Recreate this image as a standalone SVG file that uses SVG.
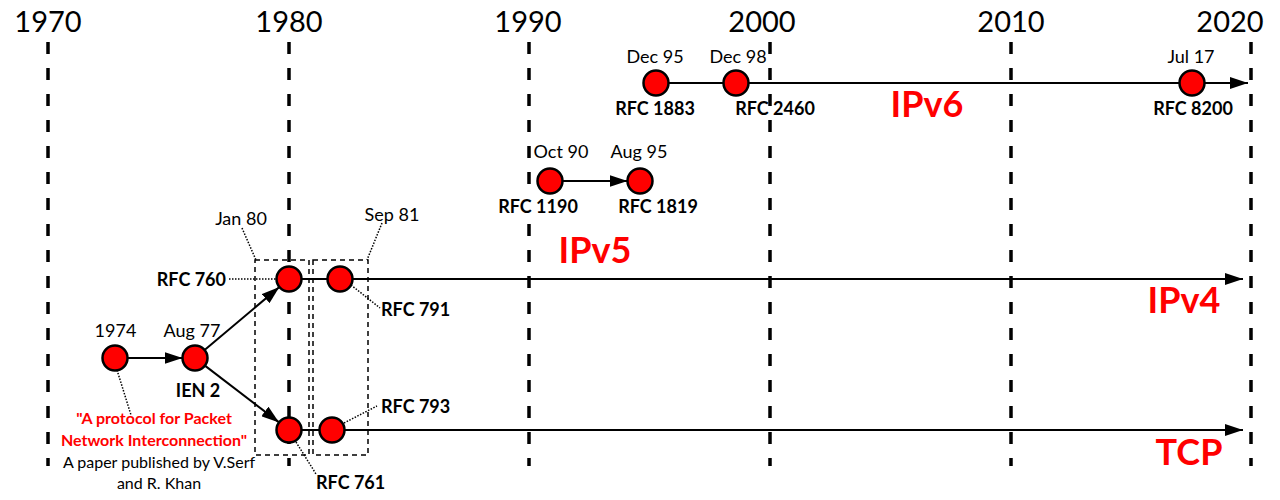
<svg xmlns="http://www.w3.org/2000/svg" width="1280" height="500" viewBox="0 0 1280 500">
<style>
  text { font-family: Lato, "Noto Sans", "DejaVu Sans", sans-serif; fill: #000; }
  .year { font-size: 29px; text-anchor: middle; }
  .date { font-size: 18px; text-anchor: middle; }
  .rfc { font-size: 18px; font-weight: bold; }
  .mid { text-anchor: middle; }
  .big { font-size: 36px; font-weight: bold; fill: #ff0000; text-anchor: middle; }
  .note { font-size: 16px; text-anchor: middle; }
  .red { fill: #ff0000; font-weight: bold; }
  .grid { stroke: #000; stroke-width: 3.5; stroke-dasharray: 12 14; fill: none; }
  .box { stroke: #000; stroke-width: 1.5; stroke-dasharray: 5 4; fill: none; }
  .lead { stroke: #000; stroke-width: 1.5; stroke-dasharray: 1.5 1.5; fill: none; }
  .conn { stroke: #000; stroke-width: 2; fill: none; }
  .node { fill: #ff0000; stroke: #000; stroke-width: 2.5; }
</style>
<defs>
  <marker id="arr" markerUnits="userSpaceOnUse" markerWidth="18" markerHeight="12" refX="18" refY="6" orient="auto">
    <path d="M0,0 L18,6 L0,12 z" fill="#000"/>
  </marker>
</defs>
<rect width="1280" height="500" fill="#fff"/>

<g id="timeline-grid">
  <line class="grid" x1="48" y1="42" x2="48" y2="466"/>
  <line class="grid" x1="289" y1="42" x2="289" y2="466"/>
  <line class="grid" x1="529" y1="42" x2="529" y2="466"/>
  <line class="grid" x1="770" y1="42" x2="770" y2="466"/>
  <line class="grid" x1="1011" y1="42" x2="1011" y2="466"/>
  <line class="grid" x1="1251" y1="42" x2="1251" y2="466"/>
  <text class="year" x="48" y="32">1970</text>
  <text class="year" x="289" y="32">1980</text>
  <text class="year" x="528" y="32">1990</text>
  <text class="year" x="762" y="32">2000</text>
  <text class="year" x="1011" y="32">2010</text>
  <text class="year" x="1230" y="32">2020</text>
</g>

<g id="groups">
  <rect class="box" x="255" y="260" width="54" height="195"/>
  <rect class="box" x="313" y="260" width="55" height="195"/>
</g>

<g id="leaders">
  <line class="lead" x1="242" y1="228" x2="256" y2="260"/>
  <line class="lead" x1="382" y1="223" x2="367" y2="260"/>
  <line class="lead" x1="229" y1="279" x2="276" y2="279"/>
  <line class="lead" x1="351" y1="285" x2="380" y2="308"/>
  <line class="lead" x1="344" y1="423" x2="377" y2="406"/>
  <line class="lead" x1="296" y1="442" x2="316" y2="474"/>
  <line class="lead" x1="117" y1="370" x2="131" y2="415"/>
</g>

<g id="connectors">
  <line class="conn" x1="656" y1="83" x2="1248" y2="83" marker-end="url(#arr)"/>
  <line class="conn" x1="562.5" y1="181" x2="627.5" y2="181" marker-end="url(#arr)"/>
  <line class="conn" x1="289" y1="279" x2="1243" y2="279" marker-end="url(#arr)"/>
  <line class="conn" x1="289" y1="430" x2="1243" y2="430" marker-end="url(#arr)"/>
  <line class="conn" x1="127.5" y1="358" x2="182.5" y2="358" marker-end="url(#arr)"/>
  <line class="conn" x1="204.6" y1="350" x2="279.4" y2="287" marker-end="url(#arr)"/>
  <line class="conn" x1="204.9" y1="365.6" x2="279.1" y2="422.4" marker-end="url(#arr)"/>
</g>

<g id="n-rfc1883"><circle class="node" cx="656" cy="83" r="12.5"/><text class="date" x="655" y="63">Dec 95</text><text class="rfc mid" x="655" y="115">RFC 1883</text></g>
<g id="n-rfc2460"><circle class="node" cx="736" cy="83" r="12.5"/><text class="date" x="738" y="63">Dec 98</text><text class="rfc mid" x="775" y="115">RFC 2460</text></g>
<g id="n-rfc8200"><circle class="node" cx="1192" cy="83" r="12.5"/><text class="date" x="1191" y="63">Jul 17</text><text class="rfc mid" x="1193" y="115">RFC 8200</text></g>

<g id="n-rfc1190"><circle class="node" cx="550" cy="181" r="12.5"/><text class="date" x="561" y="158">Oct 90</text><rect x="498" y="198" width="80" height="18" fill="#fff"/><text class="rfc mid" x="538" y="213">RFC 1190</text></g>
<g id="n-rfc1819"><circle class="node" cx="640" cy="181" r="12.5"/><text class="date" x="639" y="158">Aug 95</text><text class="rfc mid" x="658" y="213">RFC 1819</text></g>

<g id="n-rfc760"><circle class="node" cx="289" cy="279" r="12.5"/><text class="rfc" x="226" y="286" text-anchor="end">RFC 760</text><text class="date" x="241" y="225">Jan 80</text></g>
<g id="n-rfc791"><circle class="node" cx="340" cy="279" r="12.5"/><text class="rfc" x="381" y="316">RFC 791</text><text class="date" x="392" y="221">Sep 81</text></g>
<g id="n-rfc761"><circle class="node" cx="289" cy="430" r="12.5"/><text class="rfc" x="316" y="489">RFC 761</text></g>
<g id="n-rfc793"><circle class="node" cx="332" cy="430" r="12.5"/><text class="rfc" x="381" y="413">RFC 793</text></g>

<g id="n-1974"><circle class="node" cx="115" cy="358" r="12.5"/><text class="date" x="115.5" y="337">1974</text>
  <text class="note red" x="154" y="424">"A protocol for Packet</text>
  <text class="note red" x="154" y="446">Network Interconnection"</text>
  <text class="note" x="159" y="468">A paper published by V.Serf</text>
  <text class="note" x="159" y="489">and R. Khan</text>
</g>
<g id="n-ien2"><circle class="node" cx="195" cy="358" r="12.5"/><text class="date" x="192" y="337">Aug 77</text><text class="rfc mid" x="198" y="397">IEN 2</text></g>

<g id="labels">
  <text class="big" x="927" y="117">IPv6</text>
  <text class="big" x="595" y="263">IPv5</text>
  <text class="big" x="1184" y="313">IPv4</text>
  <text class="big" x="1189" y="465">TCP</text>
</g>
</svg>
